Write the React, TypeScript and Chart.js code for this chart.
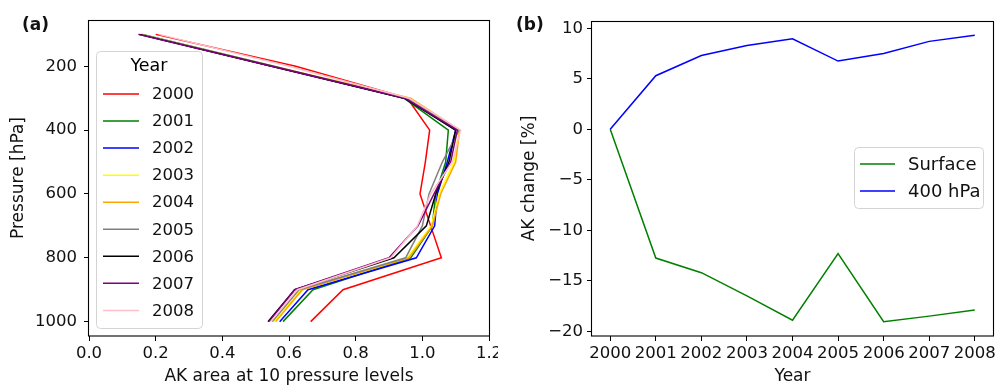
import React, { useEffect, useRef } from 'react';
import { Chart, registerables } from 'chart.js';

Chart.register(...registerables);

// ---------- Panel (a) data ----------
const pressureLevels = [100, 200, 300, 400, 500, 600, 700, 800, 900, 1000];
const profileYears = ['2000', '2001', '2002', '2003', '2004', '2005', '2006', '2007', '2008'];
const ak2000 = [0.2, 0.62, 0.955, 1.022, 1.009, 0.993, 1.025, 1.057, 0.762, 0.665];
const ak2001 = [0.16, 0.555, 0.945, 1.078, 1.07, 1.04, 1.03, 0.965, 0.672, 0.582];
const ak2002 = [0.155, 0.55, 0.95, 1.1, 1.075, 1.045, 1.037, 0.982, 0.657, 0.572];
const ak2003 = [0.155, 0.55, 0.96, 1.11, 1.095, 1.05, 1.027, 0.955, 0.637, 0.555];
const ak2004 = [0.155, 0.55, 0.965, 1.112, 1.1, 1.055, 1.03, 0.96, 0.64, 0.56];
const ak2005 = [0.155, 0.55, 0.955, 1.11, 1.06, 1.02, 1.0, 0.95, 0.63, 0.55];
const ak2006 = [0.15, 0.548, 0.945, 1.1, 1.08, 1.04, 1.012, 0.915, 0.617, 0.537];
const ak2007 = [0.148, 0.548, 0.948, 1.105, 1.085, 1.035, 0.987, 0.9, 0.617, 0.54];
const ak2008 = [0.21, 0.6, 0.96, 1.115, 1.09, 1.025, 0.985, 0.905, 0.625, 0.545];
const profileSeries = [ak2000, ak2001, ak2002, ak2003, ak2004, ak2005, ak2006, ak2007, ak2008];
const profileColors = ['#ff0000', '#008000', '#0000ff', '#ffff00', '#ffa500', '#808080', '#000000', '#800080', '#ffc0cb'];
const pressureTicks = [200, 400, 600, 800, 1000];
const areaTicks = [0, 0.2, 0.4, 0.6, 0.8, 1.0, 1.2];
const areaMin = 0;
const areaMax = 1.2;

// ---------- Panel (b) data ----------
const changeYears = [2000, 2001, 2002, 2003, 2004, 2005, 2006, 2007, 2008];
const surfaceChange = [0, -12.75, -14.2, -16.5, -18.9, -12.3, -19.05, -18.5, -17.9];
const hpa400Change = [0, 5.3, 7.3, 8.3, 8.95, 6.75, 7.5, 8.7, 9.3];
const changeLabels = ['Surface', '400 hPa'];
const changeColors = ['#008000', '#0000ff'];
const changeTicks = [-20, -15, -10, -5, 0, 5, 10];

const FONT = "'DejaVu Sans', sans-serif";

const autoRange = (vals: number[]) => {
  const lo = Math.min(...vals);
  const hi = Math.max(...vals);
  const m = (hi - lo) * 0.05;
  return [lo - m, hi + m];
};

const framePlugin = {
  id: 'frame',
  afterDraw(chart: any) {
    const { ctx, chartArea } = chart;
    ctx.save();
    ctx.strokeStyle = '#000';
    ctx.lineWidth = 1.1;
    ctx.strokeRect(
      Math.round(chartArea.left) - 0.5,
      Math.round(chartArea.top) + 0.5,
      Math.round(chartArea.right - chartArea.left) + 1,
      Math.round(chartArea.bottom - chartArea.top) - 0.5
    );
    ctx.restore();
  },
};

const boxLegendPlugin = {
  id: 'boxLegend',
  afterDatasetsDraw(chart: any, _args: any, o: any) {
    if (!o || !o.show) return;
    const { ctx } = chart;
    ctx.save();
    ctx.beginPath();
    ctx.roundRect(o.x + 0.5, o.y + 0.5, o.w, o.h, 4);
    ctx.fillStyle = 'rgba(255,255,255,0.85)';
    ctx.fill();
    ctx.strokeStyle = '#d4d4d4';
    ctx.lineWidth = 1;
    ctx.stroke();
    ctx.textBaseline = 'middle';
    if (o.title) {
      ctx.font = o.titleFont;
      ctx.fillStyle = '#000';
      ctx.textAlign = 'center';
      ctx.fillText(o.title, o.x + o.w / 2, o.titleY);
    }
    ctx.textAlign = 'left';
    ctx.font = o.font;
    chart.data.datasets.forEach((ds: any, i: number) => {
      const cy = o.firstY + i * o.step;
      ctx.strokeStyle = ds.borderColor;
      ctx.lineWidth = 1.5;
      ctx.beginPath();
      ctx.moveTo(o.lineX1, cy);
      ctx.lineTo(o.lineX2, cy);
      ctx.stroke();
      ctx.fillStyle = '#111';
      ctx.fillText(ds.label, o.textX, cy + 1);
    });
    ctx.restore();
  },
};

const tickStyle = (size: number) => ({ family: FONT, size });

function PanelA() {
  const ref = useRef<HTMLCanvasElement | null>(null);
  useEffect(() => {
    if (!ref.current) return;
    const [pMin, pMax] = autoRange(pressureLevels);
    const chart = new Chart(ref.current, {
      type: 'line',
      data: {
        datasets: profileSeries.map((arr, i) => ({
          label: profileYears[i],
          data: pressureLevels.map((p, j) => ({ x: arr[j], y: p })),
          borderColor: profileColors[i],
          backgroundColor: profileColors[i],
          borderWidth: 1.5,
          pointRadius: 0,
          tension: 0,
          fill: false,
          order: profileSeries.length - 1 - i,
        })),
      },
      options: {
        animation: false,
        responsive: false,
        events: [],
        layout: { padding: { left: 0, right: 9, top: 20, bottom: 0 } },
        plugins: {
          legend: { display: false },
          tooltip: { enabled: false },
          boxLegend: {
            show: true,
            x: 96, y: 51, w: 106, h: 277,
            title: 'Year', titleY: 66, titleFont: `17.5px ${FONT}`,
            font: `16.5px ${FONT}`,
            firstY: 94, step: 27.05,
            lineX1: 103, lineX2: 139, textX: 152,
          },
        } as any,
        scales: {
          x: {
            type: 'linear',
            min: areaMin,
            max: areaMax,
            afterBuildTicks: (s: any) => { s.ticks = areaTicks.map((v) => ({ value: v })); },
            afterFit: (s: any) => { s.height = 51; s.paddingLeft = 0; s.paddingRight = 0; },
            ticks: { autoSkip: false, maxRotation: 0, color: '#111', font: tickStyle(16.5), padding: 3, callback: (v: any) => Number(v).toFixed(1) },
            grid: { drawOnChartArea: false, drawTicks: true, tickLength: 5, color: '#000' },
            border: { display: false },
            title: { display: true, text: 'AK area at 10 pressure levels', color: '#111', font: { family: FONT, size: 17 }, padding: { top: 0, bottom: 0 } },
          },
          y: {
            type: 'linear',
            reverse: true,
            min: pMin,
            max: pMax,
            afterBuildTicks: (s: any) => { s.ticks = pressureTicks.map((v) => ({ value: v })); },
            afterFit: (s: any) => { s.width = 89; s.paddingTop = 0; s.paddingBottom = 0; },
            ticks: { autoSkip: false, color: '#111', font: tickStyle(16.5), padding: 7, callback: (v: any) => String(v) },
            grid: { drawOnChartArea: false, drawTicks: true, tickLength: 5, color: '#000' },
            border: { display: false },
            title: { display: true, text: 'Pressure [hPa]', color: '#111', font: { family: FONT, size: 17 }, padding: { top: 8, bottom: 0 } },
          },
        },
      },
      plugins: [framePlugin, boxLegendPlugin],
    });
    return () => chart.destroy();
  }, []);
  return <canvas ref={ref} width={498} height={387} style={{ width: 498, height: 387, display: 'block' }} />;
}

function PanelB() {
  const ref = useRef<HTMLCanvasElement | null>(null);
  useEffect(() => {
    if (!ref.current) return;
    const [yMin, yMax] = autoRange([...surfaceChange, ...hpa400Change]);
    const [xMin, xMax] = autoRange(changeYears);
    const series = [surfaceChange, hpa400Change];
    const chart = new Chart(ref.current, {
      type: 'line',
      data: {
        datasets: series.map((arr, i) => ({
          label: changeLabels[i],
          data: changeYears.map((yr, j) => ({ x: yr, y: arr[j] })),
          borderColor: changeColors[i],
          backgroundColor: changeColors[i],
          borderWidth: 1.5,
          pointRadius: 0,
          tension: 0,
          fill: false,
          order: series.length - 1 - i,
        })),
      },
      options: {
        animation: false,
        responsive: false,
        events: [],
        layout: { padding: { left: 0, right: 3, top: 21, bottom: 0 } },
        plugins: {
          legend: { display: false },
          tooltip: { enabled: false },
          boxLegend: {
            show: true,
            x: 356, y: 147, w: 129, h: 61,
            font: `18px ${FONT}`,
            firstY: 164, step: 27,
            lineX1: 362, lineX2: 397, textX: 410,
          },
        } as any,
        scales: {
          x: {
            type: 'linear',
            min: xMin,
            max: xMax,
            afterBuildTicks: (s: any) => { s.ticks = changeYears.map((v) => ({ value: v })); },
            afterFit: (s: any) => { s.height = 51; s.paddingLeft = 0; s.paddingRight = 0; },
            ticks: { autoSkip: false, maxRotation: 0, minRotation: 0, color: '#111', font: tickStyle(16.5), padding: 3, callback: (v: any) => String(v) },
            grid: { drawOnChartArea: false, drawTicks: true, tickLength: 5, color: '#000' },
            border: { display: false },
            title: { display: true, text: 'Year', color: '#111', font: { family: FONT, size: 17 }, padding: { top: 0, bottom: 0 } },
          },
          y: {
            type: 'linear',
            min: yMin,
            max: yMax,
            afterBuildTicks: (s: any) => { s.ticks = changeTicks.map((v) => ({ value: v })); },
            afterFit: (s: any) => { s.width = 94; s.paddingTop = 0; s.paddingBottom = 0; },
            ticks: {
              autoSkip: false,
              color: '#111',
              font: tickStyle(16.5),
              padding: 4,
              callback: (v: any) => (Number(v) < 0 ? '\u2212' + String(Math.abs(Number(v))) : String(v)),
            },
            grid: { drawOnChartArea: false, drawTicks: true, tickLength: 5, color: '#000' },
            border: { display: false },
            title: { display: true, text: 'AK change [%]', color: '#111', font: { family: FONT, size: 17 }, padding: { top: 21, bottom: 0 } },
          },
        },
      },
      plugins: [framePlugin, boxLegendPlugin],
    });
    return () => chart.destroy();
  }, []);
  return <canvas ref={ref} width={498} height={387} style={{ width: 498, height: 387, display: 'block' }} />;
}

const panelLabelStyle: React.CSSProperties = {
  position: 'absolute',
  top: 16,
  fontFamily: FONT,
  fontWeight: 'bold',
  fontSize: 17,
  lineHeight: '17px',
  color: '#111',
  whiteSpace: 'nowrap',
};

export default function App() {
  return (
    <div style={{ position: 'absolute', left: 0, top: 0, width: 996, height: 387, background: '#fff', overflow: 'hidden' }}>
      <div style={{ position: 'absolute', left: 0, top: 0 }}>
        <PanelA />
      </div>
      <div style={{ position: 'absolute', left: 498, top: 0 }}>
        <PanelB />
      </div>
      <div style={{ ...panelLabelStyle, left: 22 }}>(a)</div>
      <div style={{ ...panelLabelStyle, left: 516 }}>(b)</div>
    </div>
  );
}
